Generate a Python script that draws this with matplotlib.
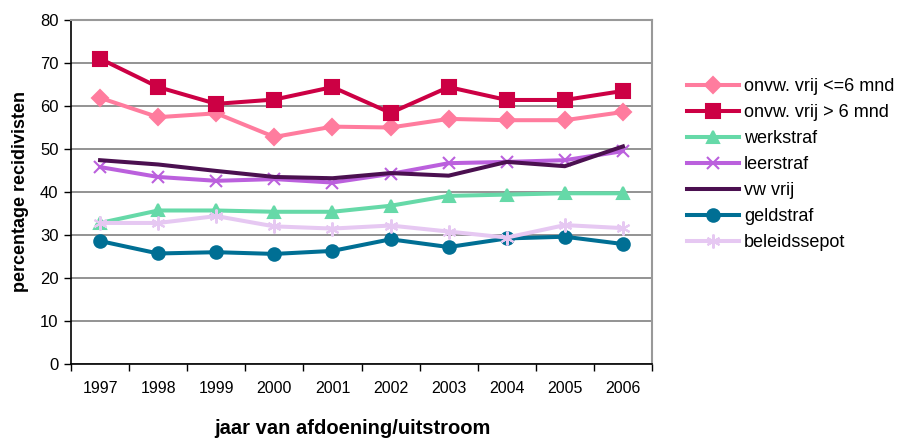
import matplotlib
matplotlib.use("Agg")
import matplotlib.pyplot as plt

plt.rcParams["font.family"] = ["Liberation Sans", "DejaVu Sans"]

years = ["1997", "1998", "1999", "2000", "2001", "2002", "2003", "2004", "2005", "2006"]

onvw_le6 = [61.9, 57.4, 58.3, 52.8, 55.2, 55.0, 57.0, 56.7, 56.7, 58.6]
onvw_gt6 = [71.0, 64.4, 60.5, 61.5, 64.4, 58.4, 64.4, 61.4, 61.4, 63.5]
werkstraf = [32.8, 35.7, 35.7, 35.4, 35.4, 36.8, 39.1, 39.4, 39.7, 39.7]
leerstraf = [45.8, 43.5, 42.6, 43.0, 42.2, 44.2, 46.7, 47.0, 47.4, 49.5]
vw_vrij = [47.4, 46.4, 44.9, 43.5, 43.2, 44.4, 43.8, 47.0, 46.0, 50.6]
geldstraf = [28.6, 25.7, 26.0, 25.6, 26.3, 29.0, 27.2, 29.2, 29.6, 27.9]
beleidssepot = [32.8, 32.8, 34.4, 32.0, 31.5, 32.2, 30.8, 29.4, 32.3, 31.6]

series = [
    ("onvw. vrij <=6 mnd", onvw_le6, "#FF7C9E", "D", 8),
    ("onvw. vrij > 6 mnd", onvw_gt6, "#CC0044", "s", 10),
    ("werkstraf", werkstraf, "#66D9A8", "^", 9),
    ("leerstraf", leerstraf, "#BB60DD", "x", 9),
    ("vw vrij", vw_vrij, "#4B1050", None, 0),
    ("geldstraf", geldstraf, "#006F94", "o", 9),
    ("beleidssepot", beleidssepot, "#E6C8F2", (6, 2, 0), 10),
]

fig = plt.figure(figsize=(9, 4.41), dpi=100)
ax = fig.add_axes([71 / 900, 77 / 441, 581 / 900, 344 / 441])

x = list(range(len(years)))
for label, vals, color, marker, ms in series:
    ax.plot(x, vals, color=color, lw=2.9, marker=marker, markersize=ms,
            markeredgewidth=1.5, markeredgecolor=color, markerfacecolor=color,
            label=label, clip_on=False)

ax.set_xlim(-0.5, len(years) - 0.5)
ax.set_ylim(0, 80)
ax.set_yticks(range(0, 81, 10))
ax.set_xticks([i - 0.5 for i in range(len(years) + 1)], minor=False)
ax.set_xticklabels([])
ax.set_xticks(x, minor=True)
ax.set_xticklabels(years, minor=True)
ax.tick_params(axis="x", which="major", direction="out", length=5, width=1, color="black")
ax.tick_params(axis="x", which="minor", length=0, pad=12, labelsize=11.5)
ax.tick_params(axis="y", direction="out", length=5, width=1, labelsize=12, pad=4)

ax.grid(axis="y", color="#808080", lw=1.2)
ax.set_axisbelow(True)
for side in ("top", "right"):
    ax.spines[side].set_color("#999999")
    ax.spines[side].set_linewidth(1.5)
for side in ("left", "bottom"):
    ax.spines[side].set_color("black")
    ax.spines[side].set_linewidth(1.2)

ax.set_ylabel("percentage recidivisten", fontsize=13, fontweight="bold", labelpad=8)
fig.text(352 / 900, 3 / 441, "jaar van afdoening/uitstroom", ha="center", va="bottom",
         fontsize=14.5, fontweight="bold")

fig.legend(loc="upper left", bbox_to_anchor=(687 / 900, 363 / 441), frameon=False,
           fontsize=13, handlelength=2.9, handletextpad=0.25, labelspacing=0.5,
           borderpad=0, borderaxespad=0)

fig.savefig("out.png", dpi=100)
